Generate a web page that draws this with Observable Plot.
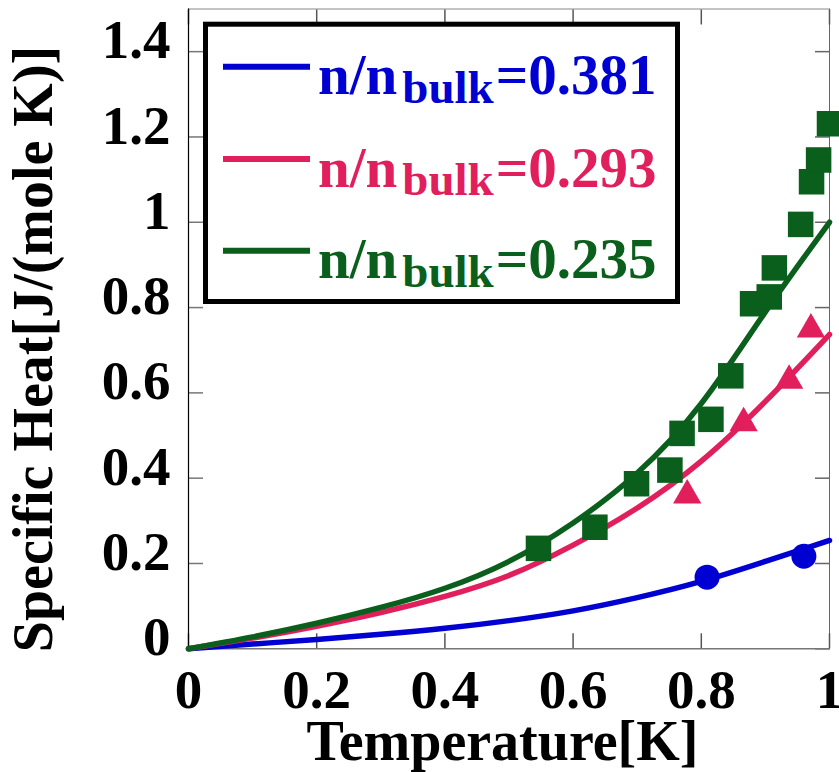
<!DOCTYPE html>
<html><head><meta charset="utf-8">
<script src="https://cdn.jsdelivr.net/npm/d3@7"></script>
<script src="https://cdn.jsdelivr.net/npm/@observablehq/plot@0.6"></script>
<style>body{margin:0;background:#fff} #chart{width:839px;height:772px}</style>
</head><body><div id="chart"></div>
<script>
// ---- data ----
const xDomain = [0, 1];
const yDomain = [0, 1.5];
const xTicks = [0, 0.2, 0.4, 0.6, 0.8, 1];
const xTickLabels = ["0", "0.2", "0.4", "0.6", "0.8", "1"];
const yTicks = [0, 0.2, 0.4, 0.6, 0.8, 1, 1.2, 1.4];
const yTickLabels = ["0", "0.2", "0.4", "0.6", "0.8", "1", "1.2", "1.4"];
const xLabel = "Temperature[K]";
const yLabel = "Specific Heat[J/(mole K)]";

const seriesNames = ["0.381", "0.293", "0.235"];
const seriesColors = ["#0000d2", "#e01f5c", "#0a5f1c"];

// fitted curves
const curveT     = [0, 0.1, 0.2, 0.3, 0.4, 0.5, 0.6, 0.7, 0.8, 0.9, 1.0];
const curveBlue  = [0, 0.011, 0.022, 0.034, 0.048, 0.066, 0.089, 0.120, 0.158, 0.205, 0.254];
const curvePink  = [0, 0.025, 0.053, 0.085, 0.123, 0.172, 0.243, 0.330, 0.440, 0.580, 0.737];
const curveGreen = [0, 0.028, 0.060, 0.097, 0.142, 0.205, 0.295, 0.412, 0.575, 0.790, 1.000];

// measured points
const blueT  = [0.809, 0.960];
const blueC  = [0.168, 0.217];
const pinkT  = [0.778, 0.866, 0.937, 0.971];
const pinkC  = [0.360, 0.529, 0.629, 0.749];
const greenT = [0.546, 0.634, 0.699, 0.751, 0.770, 0.815, 0.846, 0.880, 0.906, 0.914, 0.955, 0.972, 0.983, 1.000];
const greenC = [0.2355, 0.285, 0.387, 0.419, 0.505, 0.538, 0.640, 0.809, 0.825, 0.893, 0.995, 1.095, 1.146, 1.231];

// ---- tables ----
const curves = [curveBlue, curvePink, curveGreen];
const lineRows = curves.flatMap((arr, s) => arr.map((c, i) => ({t: curveT[i], c, series: seriesNames[s]})));
const mk = (T, C, s) => T.map((t, i) => ({t, c: C[i], series: seriesNames[s]}));
const blueRows = mk(blueT, blueC, 0);
const pinkRows = mk(pinkT, pinkC, 1);
const greenRows = mk(greenT, greenC, 2);

const FONT = "'Liberation Serif', 'Times New Roman', serif";

const plot = Plot.plot({
  width: 839,
  height: 772,
  marginLeft: 188,
  marginRight: 10,
  marginTop: 8.5,
  marginBottom: 123.7,
  x: {domain: xDomain},
  y: {domain: yDomain},
  color: {domain: seriesNames, range: seriesColors},
  style: {fontFamily: FONT, fontWeight: "bold", fontSize: "55px", background: "white", color: "black"},
  marks: [
    // frame
    Plot.ruleY([yDomain[1]], {stroke: "#888", strokeWidth: 1}),
    Plot.ruleX([xDomain[1]], {stroke: "#666", strokeWidth: 1}),
    // inward ticks
    Plot.axisY(yTicks, {anchor: "left", tickSize: -15, fill: "none", stroke: "#777", strokeWidth: 1.5, label: null}),
    Plot.axisY(yTicks, {anchor: "right", tickSize: -15, fill: "none", stroke: "#666", strokeWidth: 1.5, label: null}),
    Plot.axisX(xTicks, {anchor: "bottom", tickSize: -15, fill: "none", stroke: "#555", strokeWidth: 1.5, label: null}),
    Plot.axisX(xTicks, {anchor: "top", tickSize: -15, fill: "none", stroke: "#555", strokeWidth: 1.5, label: null}),
    // tick labels
    Plot.axisY(yTicks, {anchor: "left", tickSize: 0, tickPadding: 18, dy: -11, label: null,
      tickFormat: d => yTickLabels[yTicks.indexOf(d)]}),
    Plot.axisX(xTicks, {anchor: "bottom", tickSize: 0, tickPadding: 20, label: null,
      tickFormat: d => xTickLabels[xTicks.indexOf(d)]}),
    Plot.ruleY([yDomain[0]], {stroke: "#777", strokeWidth: 1.5}),
    Plot.ruleX([xDomain[0]], {stroke: "black", strokeWidth: 1.2}),
    // curves
    Plot.line(lineRows, {x: "t", y: "c", z: "series", stroke: "series", strokeWidth: 5.5, curve: "natural"}),
    // points
    Plot.dot(blueRows, {x: "t", y: "c", fill: "series", symbol: "circle", r: 12.5}),
    Plot.dot(pinkRows, {x: "t", y: "c", fill: "series", symbol: "triangle", r: 10.5}),
    Plot.dot(greenRows, {x: "t", y: "c", fill: "series", symbol: "square", r: 14.4})
  ]
});

document.getElementById("chart").appendChild(plot);

// ---- axis titles and legend ----
const svg = d3.select(plot);
svg.append("text")
  .attr("x", 502.5).attr("y", 760)
  .attr("text-anchor", "middle")
  .style("font-family", FONT).style("font-weight", "bold").style("font-size", "56px")
  .attr("fill", "black")
  .text(xLabel);
svg.append("text")
  .attr("transform", "translate(52,349) rotate(-90)")
  .attr("text-anchor", "middle")
  .style("font-family", FONT).style("font-weight", "bold").style("font-size", "56px")
  .attr("fill", "black")
  .text(yLabel);

const lg = svg.append("g").attr("text-anchor", "start");
lg.append("rect")
  .attr("x", 205.5).attr("y", 24.2).attr("width", 472).attr("height", 277.3)
  .attr("fill", "white").attr("stroke", "black").attr("stroke-width", 5);
const rowY = [66.7, 159, 250.7];
seriesNames.forEach((name, i) => {
  lg.append("line")
    .attr("x1", 223).attr("x2", 310).attr("y1", rowY[i]).attr("y2", rowY[i])
    .attr("stroke", seriesColors[i]).attr("stroke-width", 6);
  const t = lg.append("text")
    .attr("x", 318).attr("y", rowY[i] + 27.5)
    .attr("text-anchor", "start")
    .attr("fill", seriesColors[i])
    .style("font-family", FONT).style("font-weight", "bold").style("font-size", "57px");
  t.append("tspan").text("n/n");
  t.append("tspan").attr("dx", 5).attr("dy", 8.5).style("font-size", "47px").text("bulk");
  t.append("tspan").attr("dx", 2).attr("dy", -8.5).text("=" + name);
});
</script>
</body></html>
